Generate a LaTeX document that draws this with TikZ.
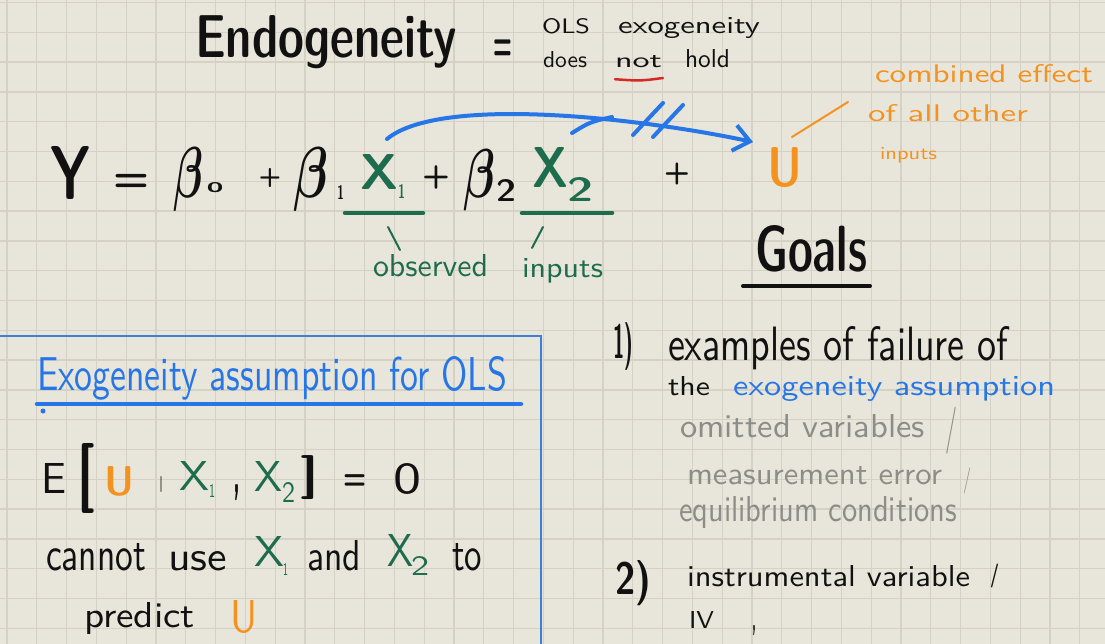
\documentclass[tikz,border=0pt]{standalone}
\usepackage{amsmath}
\usepackage{fontspec}
\usepackage{graphicx}
\usetikzlibrary{arrows.meta}
\newfontfamily\hand{lmsansdemicond10-regular.otf}
\definecolor{bg}{RGB}{232,229,218}
\definecolor{gridc}{RGB}{213,209,197}
\definecolor{ink}{RGB}{17,17,17}
\definecolor{grn}{RGB}{30,108,78}
\definecolor{org}{RGB}{244,146,32}
\definecolor{blu}{RGB}{38,118,232}
\definecolor{redc}{RGB}{214,40,36}
\definecolor{gry}{RGB}{140,140,136}
\definecolor{boxc}{RGB}{58,128,214}
\newcommand\hw[3]{\resizebox{#1pt}{#2pt}{#3}}
\newcommand\hwt[3]{\resizebox*{#1pt}{#2pt}{#3}}
\begin{document}
\begin{tikzpicture}[x=1pt,y=-1pt,
  t/.style={anchor=base west,inner sep=0pt,outer sep=0pt,font=\hand},
  tl/.style={anchor=base west,inner sep=0pt,outer sep=0pt,font=\sffamily},
  ts/.style={anchor=south west,inner sep=0pt,outer sep=0pt,font=\hand},
  sym/.style={anchor=base,inner sep=0pt,outer sep=0pt,font=\sffamily\bfseries\fontsize{#1}{#1}\selectfont},
  gridline/.style={gridc,line width=1.3pt},
  pen/.style={line width=#1,line cap=round,line join=round},
  pen/.default=2pt]
\useasboundingbox (0,0) rectangle (1105,644);
\fill[bg] (0,0) rectangle (1105,644);
\foreach \k in {0,...,37} \draw[gridline] ({7+29.8*\k},0) -- ({7+29.8*\k},644);
\foreach \k in {0,...,21} \draw[gridline] (0,{2.5+29.8*\k}) -- (1105,{2.5+29.8*\k});

% ---- title
\node[t,text=ink] (endo) at (195,58) {\hw{262}{42}{Endogeneity}};
\node[sym=22,text=ink] (teq) at (503,60.6) {\scalebox{1}[2.3]{=}};
\node[tl,text=ink] (ols) at (542,34) {\hw{48}{15}{OLS}};
\node[tl,text=ink] (exo) at (618,34) {\hw{142}{16}{exogeneity}};
\node[tl,text=ink] (does) at (543,68) {\hw{44}{16}{does}};
\node[tl,text=ink] (not) at (615,68) {\hw{47}{12}{not}};
\node[tl,text=ink] (hold) at (685,68) {\hw{45}{18}{hold}};
\draw[redc,pen=2.5pt] (not.south west) ++(0,11) coordinate (nu1) .. controls (640,81) .. (663,78) coordinate (nu2);

% ---- equation
\node[t,text=ink] (Y) at (50,200) {\hw{40}{53}{Y}};
\node[sym=42,text=ink] (eq1) at (131,191.6) {=};
\node[t,text=ink] (b0) at (173,198) {\hw{30}{50}{$\boldsymbol{\beta}$}};
\node[t,text=ink] (s0) at (207,193) {\hw{16}{10}{o}};
\node[sym=26,text=ink] (p1) at (270,184.5) {+};
\node[t,text=ink] (b1) at (293,198) {\hw{35}{50}{$\boldsymbol{\beta}$}};
\node[t,text=ink] (s1) at (337,200) {\hw{7}{14}{1}};
\node[t,text=grn] (X1) at (360,190) {\hw{38}{35}{X}};
\node[t,text=grn] (X1s) at (398,199) {\hw{7}{14}{1}};
\draw[grn,pen=4.5pt] (345,213) -- (423,213);
\node[sym=32,text=ink] (p2) at (436,186) {+};
\node[t,text=ink] (b2) at (463,198) {\hw{32}{48}{$\boldsymbol{\beta}$}};
\node[t,text=ink] (s2) at (496,202) {\hw{20}{22}{2}};
\node[t,text=grn] (X2) at (532,188) {\hw{36}{40}{X}};
\node[t,text=grn] (X2s) at (567,202) {\hw{26}{24}{2}};
\draw[grn,pen=4.5pt] (522,213) -- (612,213);
\node[sym=30,text=ink] (p3) at (677,181.5) {+};
\node[t,text=org] (U) at (767,187) {\hw{35}{39}{U}};

% blue arrow X1 -> U
\coordinate (aS) at (387,139);
\coordinate (aE) at (753,142);
\draw[blu,pen=4pt,-{Straight Barb[length=16pt,width=26pt]}] (aS) .. controls (440,95) and (640,118) .. (aE);
\draw[blu,pen=4pt] (572,133) .. controls (590,122) .. (612,117);
\draw[blu,pen=4pt] (633,135) -- (663,103);
\draw[blu,pen=4pt] (653,137) -- (683,105);

% orange note
\coordinate (oS) at (792,137);
\coordinate (oE) at (848,102);
\draw[org,pen=2pt] (oS) -- (oE);
\node[tl,text=org] (comb) at (875,83) {\hw{218}{18}{combined effect}};
\node[tl,text=org] (ofall) at (868,122) {\hw{160}{17}{of all other}};
\node[tl,text=org] (inp) at (880,160) {\hw{57}{12}{inputs}};

% observed inputs
\node[tl,text=grn] (obs) at (373,277) {\hw{115}{22}{observed}};
\node[tl,text=grn] (obsinp) at (522,277) {\hw{81}{19}{inputs}};
\draw[grn,pen=2pt] (388,227) -- (400,250);
\draw[grn,pen=2pt] (543,227) -- (532,248);

% Goals
\node[t,text=ink] (goals) at (755,272) {\hw{112}{46}{Goals}};
\draw[ink,pen=4pt] (743,286) -- (870,286);

% ---- box
\draw[boxc,line width=2pt] (-3,336) -- (541,336) -- (541,650);
\node[tl,text=blu] (exot) at (37,390) {\hw{470}{34}{Exogeneity assumption for OLS}};
\draw[blu,pen=4.5pt] (37,404) -- (521,404);
\fill[blu] (43,411) circle (2.5);

\node[tl,text=ink] (E) at (41,493) {\hw{25}{30}{E}};
\node[ts,text=ink] (lbr) at (77,513) {\hwt{18}{70}{[}};
\node[t,text=org] (U2) at (104,495) {\hw{30}{29}{U}};
\node[ts,text=ink] (bar) at (159,492) {\hwt{4}{16}{$\boldsymbol{|}$}};
\node[tl,text=grn] (X1c) at (179,490) {\hw{30}{29}{X}};
\node[tl,text=grn] (X1cs) at (209,497) {\hw{6}{13}{1}};
\node[ts,text=ink] (comma) at (233,501) {\hwt{7}{16}{,}};
\node[tl,text=grn] (X2c) at (254,491) {\hw{28}{30}{X}};
\node[tl,text=grn] (X2cs) at (282,502) {\hw{13}{20}{2}};
\node[ts,text=ink] (rbr) at (300,500) {\hwt{18}{44}{]}};
\node[sym=27,text=ink] (eq2) at (355,489.6) {\scalebox{1}[1.35]{=}};
\node[tl,text=ink] (zero) at (393,493) {\hw{28}{30}{0}};

\node[tl,text=ink] (cannot) at (46,570) {\hw{100}{27}{cannot}};
\node[tl,text=ink] (use) at (168,570) {\hw{59}{19}{use}};
\node[tl,text=grn] (X1d) at (254,566) {\hw{30}{30}{X}};
\node[tl,text=grn] (X1ds) at (283,575) {\hw{5}{12}{1}};
\node[tl,text=ink] (and) at (307,570) {\hw{54}{30}{and}};
\node[tl,text=grn] (X2d) at (387,566) {\hw{26}{32}{X}};
\node[tl,text=grn] (X2ds) at (411,575) {\hw{18}{19}{2}};
\node[tl,text=ink] (to) at (452,570) {\hw{30}{27}{to}};
\node[tl,text=ink] (predict) at (84,627) {\hw{111}{25}{predict}};
\node[tl,text=org] (U3) at (230,632) {\hw{27}{32}{U}};

% ---- right column
\node[t,text=ink,font=\sffamily\bfseries] (one) at (613,358) {\hw{20}{36}{1)}};
\node[tl,text=ink] (ex1) at (668,360) {\hw{340}{34}{examples of failure of}};
\node[tl,text=ink] (the) at (668,395) {\hw{42}{19}{the}};
\node[tl,text=blu] (exas) at (733,395) {\hw{322}{19}{exogeneity assumption}};
\node[tl,text=gry] (omit) at (680,437) {\hw{245}{23}{omitted variables}};
\node[ts,text=gry,font=\sffamily] (sl1) at (945,454) {\hwt{12}{47}{/}};
\node[tl,text=gry] (meas) at (687,484) {\hw{255}{18}{measurement error}};
\node[ts,text=gry,font=\sffamily] (sl2) at (963,494) {\hwt{8}{26}{/}};
\node[tl,text=gry] (equil) at (679,521) {\hw{278}{25}{equilibrium conditions}};
\node[t,text=ink,font=\sffamily\bfseries] (two) at (615,594) {\hw{36}{34}{2)}};
\node[tl,text=ink] (instr) at (687,586) {\hw{283}{21}{instrumental variable}};
\node[ts,text=ink] (sl3) at (990,588) {\hwt{9}{24}{/}};
\node[tl,text=ink] (iv) at (689,628) {\hw{25}{17}{IV}};
\node[ts,text=ink] (ivc) at (752,636) {\hwt{4}{10}{,}};
\end{tikzpicture}
\end{document}
